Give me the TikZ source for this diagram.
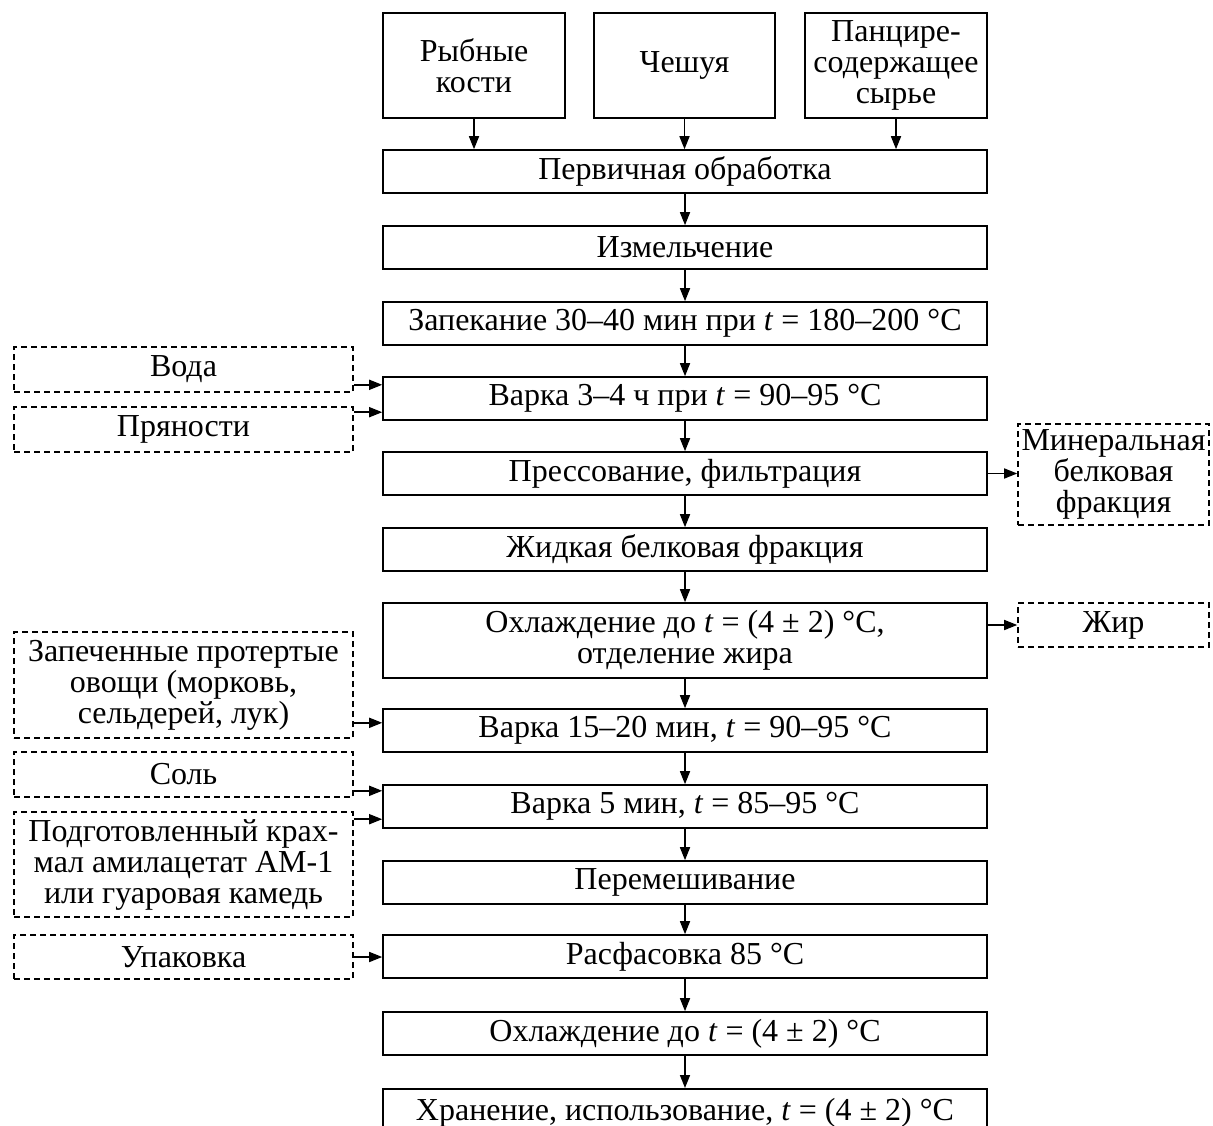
\documentclass[tikz,border=0pt]{standalone}
\usepackage{fontspec}
\setmainfont{Liberation Serif}
\usetikzlibrary{arrows.meta,calc}
\begin{document}
\begin{tikzpicture}[x=1pt,y=-1pt,
  every node/.style={font=\fontsize{32}{31}\selectfont, align=center, inner sep=0pt, line width=1.6pt},
  box/.style={draw, rectangle, minimum width=#1, minimum height=43},
  box/.default=604,
  dbox/.style={draw, rectangle, dash pattern=on 6pt off 4pt, minimum width=#1},
  dbox/.default=339,
  arr/.style={line width=1.6pt, -{Triangle[length=13pt,width=10pt]}}]
\useasboundingbox (0,0) rectangle (1213,1126);
% top sources
\node[box=182, minimum height=105] (src1) at (474,65.5) {Рыбные\\кости};
\node[box=181, minimum height=105] (src2) at (684.5,65.5) {Чешуя};
\node[box=182, minimum height=105] (src3) at (896,65.5) {Панцире-\\содержащее\\сырье};
% main column
\node[box] (b1) at (685,171.5) {Первичная обработка};
\node[box] (b2) at (685,247.5) {Измельчение};
\node[box] (b3) at (685,323.5) {Запекание 30–40 мин при \textit{t} = 180–200 °C};
\node[box] (b4) at (685,398.5) {Варка 3–4 ч при \textit{t} = 90–95 °C};
\node[box] (b5) at (685,473.5) {Прессование, фильтрация};
\node[box] (b6) at (685,549.5) {Жидкая белковая фракция};
\node[box, minimum height=75] (b7) at (685,640.5) {Охлаждение до \textit{t} = (4 ± 2) °C,\\отделение жира};
\node[box] (b8) at (685,730.5) {Варка 15–20 мин, \textit{t} = 90–95 °C};
\node[box] (b9) at (685,806.5) {Варка 5 мин, \textit{t} = 85–95 °C};
\node[box] (b10) at (685,882.5) {Перемешивание};
\node[box] (b11) at (685,956.5) {Расфасовка 85 °C};
\node[box] (b12) at (685,1033.5) {Охлаждение до \textit{t} = (4 ± 2) °C};
\node[box, minimum height=48, anchor=north] (b13) at (685,1088) {Хранение, использование, \textit{t} = (4 ± 2) °C};
% left inputs
\node[dbox, minimum height=45] (voda) at (183.5,369.5) {Вода};
\node[dbox, minimum height=45] (pryan) at (183.5,429.5) {Пряности};
\node[dbox, minimum height=106] (ovoshi) at (183.5,685) {Запеченные протертые\\овощи (морковь,\\сельдерей, лук)};
\node[dbox, minimum height=45] (sol) at (183.5,774.5) {Соль};
\node[dbox, minimum height=105] (krahmal) at (183.5,864.5) {Подготовленный крах-\\мал амилацетат АМ-1\\или гуаровая камедь};
\node[dbox, minimum height=44] (upak) at (183.5,957) {Упаковка};
% right outputs
\node[dbox=191, minimum height=101] (miner) at (1113.5,474.5) {Минеральная\\белковая\\фракция};
\node[dbox=191, minimum height=44] (zhir) at (1113.5,625) {Жир};
% vertical arrows
\draw[arr] (src1.south) -- (src1.south |- b1.north);
\draw[arr] (src2.south) -- (src2.south |- b1.north);
\draw[arr] (src3.south) -- (src3.south |- b1.north);
\draw[arr] (b1) -- (b2);
\draw[arr] (b2) -- (b3);
\draw[arr] (b3) -- (b4);
\draw[arr] (b4) -- (b5);
\draw[arr] (b5) -- (b6);
\draw[arr] (b6) -- (b7);
\draw[arr] (b7) -- (b8);
\draw[arr] (b8) -- (b9);
\draw[arr] (b9) -- (b10);
\draw[arr] (b10) -- (b11);
\draw[arr] (b11) -- (b12);
\draw[arr] (b12) -- (b13);
% side arrows
\draw[arr] ($(voda.south east)+(0pt,8pt)$) coordinate (c1) -- (c1 -| b4.west);
\draw[arr] ($(pryan.north east)+(0pt,-6pt)$) coordinate (c2) -- (c2 -| b4.west);
\draw[arr] ($(ovoshi.south east)+(0pt,16pt)$) coordinate (c3) -- (c3 -| b8.west);
\draw[arr] ($(sol.south east)+(0pt,7pt)$) coordinate (c4) -- (c4 -| b9.west);
\draw[arr] ($(krahmal.north east)+(0pt,-8pt)$) coordinate (c5) -- (c5 -| b9.west);
\draw[arr] (upak.east) -- (upak.east -| b11.west);
\draw[arr] (b5.east) -- (b5.east -| miner.west);
\draw[arr] (zhir.west -| b7.east) -- (zhir.west);
\end{tikzpicture}
\end{document}
